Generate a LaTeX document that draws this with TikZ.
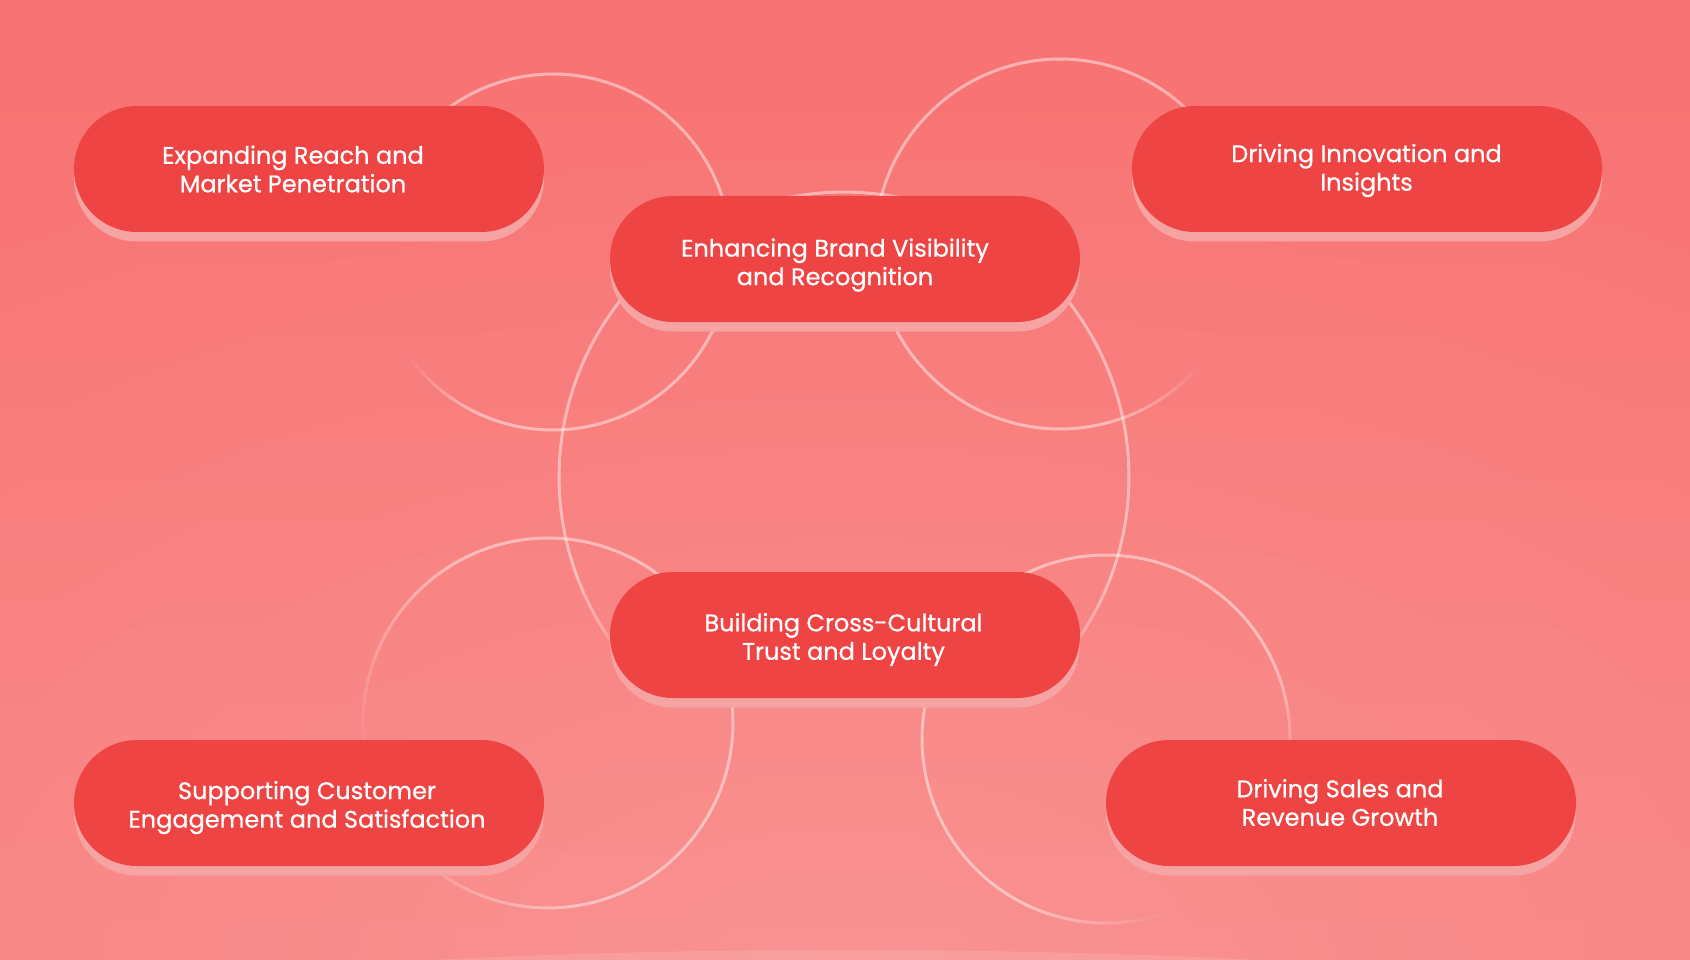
\documentclass[tikz,border=0pt]{standalone}
\usepackage{fontspec}
\setmainfont{Poppins}
\newfontfamily\pillfont{Poppins}[FakeBold=0.6]
\usetikzlibrary{fadings,shapes.misc}
\definecolor{bgtop}{HTML}{F87373}
\definecolor{bgbot}{HTML}{F8807F}
\definecolor{pillred}{HTML}{EF4444}
\definecolor{pillshadow}{HTML}{F6A3A3}
\tikzfading[name=glowfade, inner color=transparent!0, outer color=transparent!100]
\newcommand{\fadering}[6]{%
  \foreach \a in {0,3,...,357}{%
    \pgfmathsetmacro{\dd}{abs(mod(\a+1.5-#4+540,360)-180)}%
    \pgfmathsetmacro{\oo}{0.45*min(1,max(0,(\dd-#5)/(#6-#5)))}%
    \draw[ringline, opacity=\oo] ({#1+#3*cos(\a)},{#2+#3*sin(\a)}) -- ({#1+#3*cos(\a+3)},{#2+#3*sin(\a+3)});
  }}
\newcommand{\pillshade}[2]{%
  \fill[pillshadow, rounded corners=62.9pt] ({#1-235},{#2-63+9.5}) rectangle ({#1+235},{#2+63+9.5});}
\begin{document}
\begin{tikzpicture}[x=1pt,y=-1pt,
  ringline/.style={white, line width=3pt, line cap=butt},
  pillbox/.style={rounded rectangle, fill=pillred, draw=none, inner sep=0pt,
    minimum width=470pt, minimum height=126pt},
  pilltext/.style={text=white, align=center, inner sep=0pt,
    font=\pillfont\fontsize{24}{28.5}\selectfont}]
\useasboundingbox (0,0) rectangle (1690,960);
\begin{scope}
\clip (0,0) rectangle (1690,960);
\shade[top color=bgtop, bottom color=bgbot] (0,0) rectangle (1690,960);
\fill[white, opacity=0.15, path fading=glowfade] (845,980) ellipse [x radius=1600, y radius=900];
\fill[white, opacity=0.13] (845,1020) ellipse [x radius=800, y radius=70];
% rings
\fadering{553}{252}{178}{170}{25}{55}
\fadering{1060}{244}{185}{10}{30}{65}
\fadering{844}{477}{285}{90}{40}{70}
\fadering{548}{723}{185}{160}{10}{80}
\fadering{1106}{739}{184}{45}{25}{70}
\end{scope}
% shadows
\pillshade{309}{169}
\pillshade{845}{259}
\pillshade{1367}{169}
\pillshade{845}{635}
\pillshade{309}{803}
\pillshade{1341}{803}
% pills
\node[pillbox] (p1) at (309,169) {};
\node[pillbox] (p2) at (845,259) {};
\node[pillbox] (p3) at (1367,169) {};
\node[pillbox] (p4) at (845,635) {};
\node[pillbox] (p5) at (309,803) {};
\node[pillbox] (p6) at (1341,803) {};
% texts
\node[pilltext] (t1) at (293,169) {Expanding Reach and\\Market Penetration};
\node[pilltext] (t2) at (835,265) {Enhancing Brand Visibility\\and Recognition};
\node[pilltext] (t3) at (1366.5,170.5) {Driving Innovation and\\Insights};
\node[pilltext] (t4) at (843.5,639.5) {Building Cross-Cultural\\Trust and Loyalty};
\node[pilltext] (t5) at (307,807.5) {Supporting Customer\\Engagement and Satisfaction};
\node[pilltext] (t6) at (1340,802.5) {Driving Sales and\\Revenue Growth};
\end{tikzpicture}
\end{document}
